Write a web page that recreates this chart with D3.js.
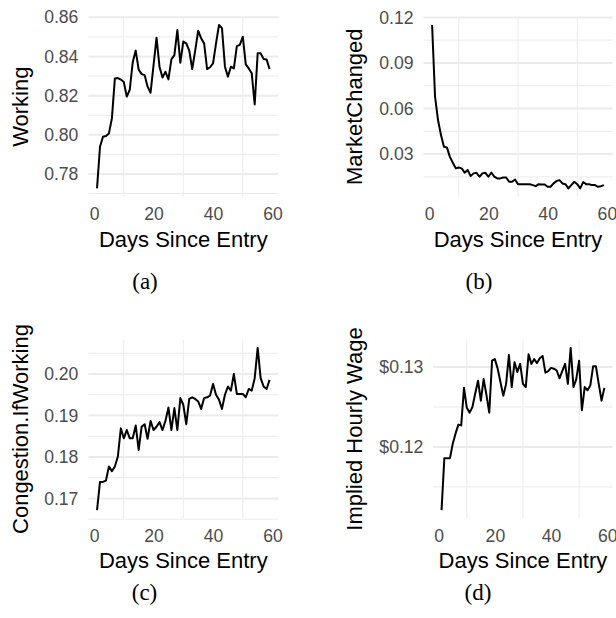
<!DOCTYPE html>
<html>
<head>
<meta charset="utf-8">
<script src="https://cdn.jsdelivr.net/npm/d3@7/dist/d3.min.js"></script>
<style>
  body { margin: 0; background: white; }
  svg { display: block; }
</style>
</head>
<body>
<div id="bigdiv"></div>
<script>
// four small line charts, one per outcome, all against days since entry

const days = [1, 2, 3, 4, 5, 6, 7, 8, 9, 10, 11, 12, 13, 14, 15, 16, 17, 18, 19, 20,
    21, 22, 23, 24, 25, 26, 27, 28, 29, 30, 31, 32, 33, 34, 35, 36, 37, 38, 39, 40,
    41, 42, 43, 44, 45, 46, 47, 48, 49, 50, 51, 52, 53, 54, 55, 56, 57, 58, 59]

const working = [0.7726, 0.7939, 0.7990, 0.7994, 0.8007, 0.8084, 0.8288, 0.8290, 0.8282, 0.8270,
    0.8195, 0.8230, 0.8370, 0.8430, 0.8333, 0.8310, 0.8305, 0.8246, 0.8215, 0.8356,
    0.8496, 0.8348, 0.8293, 0.8322, 0.8283, 0.8385, 0.8407, 0.8535, 0.8368, 0.8476,
    0.8467, 0.8430, 0.8336, 0.8430, 0.8532, 0.8493, 0.8467, 0.8336, 0.8345, 0.8365,
    0.8467, 0.8561, 0.8545, 0.8348, 0.8297, 0.8348, 0.8339, 0.8453, 0.8459, 0.8501,
    0.8360, 0.8339, 0.8314, 0.8155, 0.8416, 0.8416, 0.8387, 0.8385, 0.8336]

const marketChanged = [0.1150, 0.0678, 0.0524, 0.0425, 0.0348, 0.0344, 0.0282, 0.0243, 0.0206, 0.0212,
    0.0206, 0.0177, 0.0195, 0.0155, 0.0173, 0.0177, 0.0151, 0.0173, 0.0177, 0.0151,
    0.0179, 0.0151, 0.0140, 0.0140, 0.0146, 0.0146, 0.0118, 0.0118, 0.0133, 0.0102,
    0.0102, 0.0102, 0.0102, 0.0102, 0.0096, 0.0089, 0.0102, 0.0100, 0.0100, 0.0085,
    0.0085, 0.0107, 0.0122, 0.0129, 0.0107, 0.0102, 0.0074, 0.0096, 0.0118, 0.0102,
    0.0074, 0.0116, 0.0102, 0.0102, 0.0096, 0.0096, 0.0085, 0.0089, 0.0096]

const congestion = [0.1672, 0.1740, 0.1740, 0.1743, 0.1777, 0.1766, 0.1777, 0.1801, 0.1869, 0.1845,
    0.1865, 0.1845, 0.1845, 0.1876, 0.1817, 0.1873, 0.1879, 0.1844, 0.1887, 0.1865,
    0.1873, 0.1884, 0.1865, 0.1887, 0.1919, 0.1865, 0.1918, 0.1865, 0.1942, 0.1926,
    0.1879, 0.1940, 0.1944, 0.1940, 0.1934, 0.1916, 0.1942, 0.1944, 0.1948, 0.1976,
    0.1950, 0.1938, 0.1916, 0.1950, 0.1970, 0.1960, 0.2000, 0.1952, 0.1952, 0.1952,
    0.1944, 0.1964, 0.1960, 0.1990, 0.2063, 0.1990, 0.1970, 0.1964, 0.1986]

const wage = [0.1121, 0.1186, 0.1186, 0.1186, 0.1204, 0.1217, 0.1228, 0.1227, 0.1274, 0.1249,
    0.1243, 0.1250, 0.1267, 0.1283, 0.1258, 0.1285, 0.1265, 0.1243, 0.1308, 0.1310,
    0.1298, 0.1281, 0.1264, 0.1279, 0.1315, 0.1275, 0.1306, 0.1294, 0.1304, 0.1279,
    0.1275, 0.1316, 0.1304, 0.1310, 0.1305, 0.1311, 0.1314, 0.1293, 0.1295, 0.1299,
    0.1298, 0.1296, 0.1286, 0.1295, 0.1304, 0.1279, 0.1324, 0.1275, 0.1285, 0.1308,
    0.1246, 0.1275, 0.1271, 0.1277, 0.1301, 0.1301, 0.1279, 0.1258, 0.1274]

// tick labels
const xTicks = [0, 20, 40, 60]
const xMinor = [10, 30, 50]
const workingTicks = [0.78, 0.80, 0.82, 0.84, 0.86]
const workingMinor = [0.77, 0.79, 0.81, 0.83, 0.85]
const marketTicks = [0.03, 0.06, 0.09, 0.12]
const marketMinor = [0.015, 0.045, 0.075, 0.105]
const congestionTicks = [0.17, 0.18, 0.19, 0.20]
const congestionMinor = [0.165, 0.175, 0.185, 0.195, 0.205]
const wageTicks = [0.12, 0.13]
const wageMinor = [0.115, 0.125]

const xTitle = 'Days Since Entry'

// panel boxes (layout only), plus what goes in each
const panels = [
    { key: 'a', left: 88.4, right: 278.2, top: 16.8, bottom: 196.6, capX: 145, capY: 288.5,
      values: working, ticks: workingTicks, minor: workingMinor, fmt: d3.format('.2f'), title: 'Working', titleX: 27.5 },
    { key: 'b', left: 423.5, right: 612.5, top: 16.8, bottom: 196.6, capX: 479, capY: 288.5,
      values: marketChanged, ticks: marketTicks, minor: marketMinor, fmt: d3.format('.2f'), title: 'MarketChanged', titleX: 362 },
    { key: 'c', left: 88.4, right: 278.2, top: 339.8, bottom: 518.2, capX: 144.5, capY: 600,
      values: congestion, ticks: congestionTicks, minor: congestionMinor, fmt: d3.format('.2f'), title: 'Congestion.IfWorking', titleX: 27.5 },
    { key: 'd', left: 433.4, right: 612.5, top: 339.8, bottom: 518.2, capX: 478, capY: 600,
      values: wage, ticks: wageTicks, minor: wageMinor, fmt: d => '$' + d3.format('.2f')(d), title: 'Implied Hourly Wage', titleX: 362 }
]

const sansFont = '"Liberation Sans", Arimo, Helvetica, Arial, sans-serif'
const serifFont = '"Liberation Serif", "Times New Roman", serif'

// ggplot style: pad the data range by 5% on each side
function expandRange(arr) {
    let ext = d3.extent(arr)
    let pad = (ext[1] - ext[0]) * 0.05
    return [ext[0] - pad, ext[1] + pad]
}

let svg = d3.select('div#bigdiv').append('svg')
    .attr('width', 616)
    .attr('height', 618)
    .style('background-color', 'white')

panels.forEach(p => {
    let g = svg.append('g').attr('id', 'panel_' + p.key)

    let x = d3.scaleLinear().domain(expandRange(days)).range([p.left, p.right])
    let y = d3.scaleLinear().domain(expandRange(p.values)).range([p.bottom, p.top])

    // minor grid first (thin), then major horizontal grid (thicker)
    g.selectAll('line.hminor').data(p.minor).enter().append('line')
        .attr('class', 'hminor')
        .attr('x1', p.left).attr('x2', p.right)
        .attr('y1', d => y(d)).attr('y2', d => y(d))
        .attr('stroke', '#ebebeb').attr('stroke-width', 1)

    g.selectAll('line.vminor').data(xMinor).enter().append('line')
        .attr('class', 'vminor')
        .attr('y1', p.top).attr('y2', p.bottom)
        .attr('x1', d => x(d)).attr('x2', d => x(d))
        .attr('stroke', '#ebebeb').attr('stroke-width', 1)

    g.selectAll('line.hmajor').data(p.ticks).enter().append('line')
        .attr('class', 'hmajor')
        .attr('x1', p.left).attr('x2', p.right)
        .attr('y1', d => y(d)).attr('y2', d => y(d))
        .attr('stroke', '#ebebeb').attr('stroke-width', 2)

    // the series
    let line = d3.line()
        .x((d, i) => x(days[i]))
        .y(d => y(d))

    g.append('path')
        .datum(p.values)
        .attr('d', line)
        .attr('fill', 'none')
        .attr('stroke', 'black')
        .attr('stroke-width', 2)
        .attr('stroke-linejoin', 'round')

    // axes, no ticks and no domain line, only labels
    let xAxis = g.append('g')
        .attr('transform', 'translate(0,' + p.bottom + ')')
        .call(d3.axisBottom(x).tickValues(xTicks).tickSize(0).tickPadding(11).tickFormat(d3.format('d')))
    let yAxis = g.append('g')
        .attr('transform', 'translate(' + p.left + ',0)')
        .call(d3.axisLeft(y).tickValues(p.ticks).tickSize(0).tickPadding(10).tickFormat(p.fmt))

    ;[xAxis, yAxis].forEach(ax => {
        ax.select('.domain').remove()
        ax.selectAll('text')
            .attr('fill', '#4d4d4d')
            .style('font-family', sansFont)
            .style('font-size', '17.6px')
    })

    // axis titles
    g.append('text')
        .attr('x', (p.left + p.right) / 2)
        .attr('y', p.bottom + 50)
        .attr('text-anchor', 'middle')
        .style('font-family', sansFont)
        .style('font-size', '22px')
        .attr('fill', 'black')
        .text(xTitle)

    g.append('text')
        .attr('transform', 'translate(' + p.titleX + ',' + (p.top + p.bottom) / 2 + ') rotate(-90)')
        .attr('text-anchor', 'middle')
        .style('font-family', sansFont)
        .style('font-size', '22px')
        .attr('fill', 'black')
        .text(p.title)

    // subfigure caption
    g.append('text')
        .attr('x', p.capX)
        .attr('y', p.capY)
        .attr('text-anchor', 'middle')
        .style('font-family', serifFont)
        .style('font-size', '23px')
        .attr('fill', 'black')
        .text('(' + p.key + ')')
})
</script>
</body>
</html>
